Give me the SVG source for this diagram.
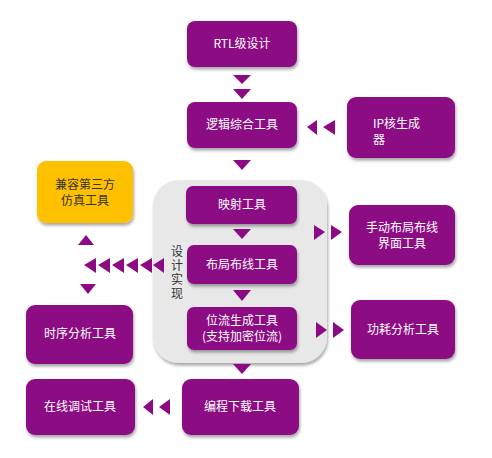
<svg xmlns="http://www.w3.org/2000/svg" width="492" height="458" viewBox="0 0 492 458">
<defs>
<filter id="sh" x="-10%" y="-10%" width="125%" height="135%">
<feDropShadow dx="1" dy="2.5" stdDeviation="1.5" flood-color="#000" flood-opacity="0.35"/>
</filter>
<style>
.b{fill:#8C0A83;filter:url(#sh)}
.y{fill:#FFC000;filter:url(#sh)}
.t{font-family:"Noto Sans CJK SC","Liberation Sans",sans-serif;font-size:12px;fill:#fff;text-anchor:middle}
.tk{font-family:"Noto Sans CJK SC","Liberation Sans",sans-serif;font-size:12px;fill:#333;text-anchor:middle}
.a{fill:#8C0A83}
</style>
</defs>
<rect width="492" height="458" fill="#fff"/>
<g id="container">
<rect x="153" y="180" width="174" height="183" rx="26" fill="#E8E8E8" filter="url(#sh)"/>
<text x="177" y="245" writing-mode="vertical-rl" letter-spacing="2" font-family="'Noto Sans CJK SC',sans-serif" font-size="12" fill="#333">设计实现</text>
</g>
<g id="rtl"><rect class="b" x="187" y="21" width="110" height="46" rx="8"/><text class="t" x="242" y="48">RTL级设计</text></g>
<g id="synth"><rect class="b" x="187" y="102" width="110" height="46" rx="8"/><text class="t" x="242" y="129">逻辑综合工具</text></g>
<g id="ip"><rect class="b" x="347" y="97" width="108" height="61" rx="9"/><text class="t" x="373" y="128" style="text-anchor:start">IP核生成</text><text class="t" x="373" y="144" style="text-anchor:start">器</text></g>
<g id="sim"><rect class="y" x="37" y="161" width="96" height="62" rx="9"/><text class="tk" x="85" y="189">兼容第三方</text><text class="tk" x="85" y="205">仿真工具</text></g>
<g id="map"><rect class="b" x="186" y="186" width="111" height="38" rx="7"/><text class="t" x="242" y="209">映射工具</text></g>
<g id="manual"><rect class="b" x="349" y="205" width="106" height="60" rx="9"/><text class="t" x="402" y="232">手动布局布线</text><text class="t" x="402" y="248">界面工具</text></g>
<g id="pr"><rect class="b" x="187" y="245" width="110" height="39" rx="7"/><text class="t" x="242" y="269">布局布线工具</text></g>
<g id="timing"><rect class="b" x="26" y="305" width="107" height="59" rx="9"/><text class="t" x="80" y="338">时序分析工具</text></g>
<g id="bit"><rect class="b" x="187" y="307" width="110" height="43" rx="7"/><text class="t" x="242" y="325">位流生成工具</text><text class="t" x="242" y="341">(支持加密位流)</text></g>
<g id="power"><rect class="b" x="351" y="300" width="104" height="59" rx="9"/><text class="t" x="403" y="334">功耗分析工具</text></g>
<g id="prog"><rect class="b" x="182" y="379" width="117" height="56" rx="9"/><text class="t" x="240" y="411">编程下载工具</text></g>
<g id="debug"><rect class="b" x="26" y="379" width="109" height="56" rx="9"/><text class="t" x="80" y="411">在线调试工具</text></g>
<g id="connectors">
<polygon class="a" points="233,75 251,75 242,84"/>
<polygon class="a" points="233,89 251,89 242,99"/>
<polygon class="a" points="307,127 317,120 317,135"/>
<polygon class="a" points="323,127 335,120 335,135"/>
<polygon class="a" points="233,160 251,160 242,170"/>
<polygon class="a" points="233,229 251,229 242,239"/>
<polygon class="a" points="233,290 251,290 242,301"/>
<polygon class="a" points="233,364 251,364 242,374"/>
<polygon class="a" points="325,232 314,225 314,240"/>
<polygon class="a" points="342,232 331,225 331,240"/>
<polygon class="a" points="327,330 316,322 316,338"/>
<polygon class="a" points="344,330 333,322 333,338"/>
<polygon class="a" points="143,407 153,399 153,415"/>
<polygon class="a" points="159,407 170,399 170,415"/>
<polygon class="a" points="84,265 96,258 96,273"/>
<polygon class="a" points="98,265 110,258 110,273"/>
<polygon class="a" points="112,265 124,258 124,273"/>
<polygon class="a" points="126,265 138,258 138,273"/>
<polygon class="a" points="140,265 152,258 152,273"/>
<polygon class="a" points="153,265 164,258 164,273"/>
<polygon class="a" points="78,245 94,245 86,235"/>
<polygon class="a" points="80,284 96,284 88,294"/>
</g>
</svg>
